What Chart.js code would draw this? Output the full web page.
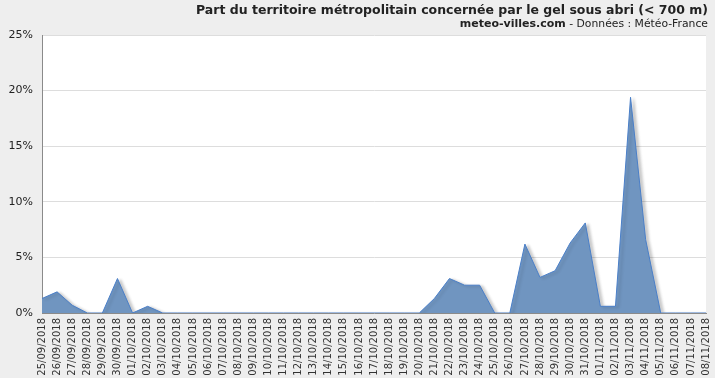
<!DOCTYPE html>
<html>
<head>
<meta charset="utf-8">
<script src="https://cdn.jsdelivr.net/npm/chart.js@4.4.1/dist/chart.umd.min.js"></script>
<style>
  html, body { margin: 0; padding: 0; background: #eeeeee; }
  #wrap { width: 715px; height: 378px; }
</style>
</head>
<body>
<div id="wrap"><canvas id="graph" width="715" height="378"></canvas></div>
<script>
// dates (jours)
const jours = [
  "25/09/2018", "26/09/2018", "27/09/2018", "28/09/2018", "29/09/2018", "30/09/2018",
  "01/10/2018", "02/10/2018", "03/10/2018", "04/10/2018", "05/10/2018", "06/10/2018",
  "07/10/2018", "08/10/2018", "09/10/2018", "10/10/2018", "11/10/2018", "12/10/2018",
  "13/10/2018", "14/10/2018", "15/10/2018", "16/10/2018", "17/10/2018", "18/10/2018",
  "19/10/2018", "20/10/2018", "21/10/2018", "22/10/2018", "23/10/2018", "24/10/2018",
  "25/10/2018", "26/10/2018", "27/10/2018", "28/10/2018", "29/10/2018", "30/10/2018",
  "31/10/2018", "01/11/2018", "02/11/2018", "03/11/2018", "04/11/2018", "05/11/2018",
  "06/11/2018", "07/11/2018", "08/11/2018"
];

// part du territoire en gel (%)
const partGel = [
  1.3, 1.9, 0.7, 0, 0, 3.1,
  0, 0.6, 0, 0, 0, 0,
  0, 0, 0, 0, 0, 0,
  0, 0, 0, 0, 0, 0,
  0, 0, 1.3, 3.1, 2.5, 2.5,
  0, 0, 6.2, 3.2, 3.8, 6.3,
  8.1, 0.6, 0.6, 19.4, 6.6, 0,
  0, 0, 0
];

const ticksY = [0, 5, 10, 15, 20, 25];

// fond gris + zone blanche + titre
const fond = {
  id: "fond",
  beforeDraw(chart) {
    const { ctx, chartArea } = chart;
    ctx.save();
    ctx.fillStyle = "#eeeeee";
    ctx.fillRect(0, 0, chart.width, chart.height);
    ctx.fillStyle = "#ffffff";
    ctx.fillRect(chartArea.left, chartArea.top, chartArea.right - chartArea.left, chartArea.bottom - chartArea.top);
    ctx.restore();
  },
  beforeDatasetsDraw(chart) {
    const ctx = chart.ctx;
    ctx.save();
    ctx.shadowColor = "rgba(0,0,0,0.2)";
    ctx.shadowBlur = 3;
    ctx.shadowOffsetX = 3;
    ctx.shadowOffsetY = 1;
  },
  afterDatasetsDraw(chart) {
    chart.ctx.restore();
  },
  afterDraw(chart) {
    const ctx = chart.ctx;
    const droite = 708;
    ctx.save();
    ctx.textAlign = "right";
    ctx.textBaseline = "alphabetic";
    ctx.fillStyle = "#222222";
    ctx.font = "bold 12.5px 'DejaVu Sans'";
    ctx.fillText("Part du territoire métropolitain concernée par le gel sous abri (< 700 m)", droite, 14);
    ctx.font = "10.8px 'DejaVu Sans'";
    const suite = " - Données : Météo-France";
    ctx.fillText(suite, droite, 27);
    const w = ctx.measureText(suite).width;
    ctx.font = "bold 11px 'DejaVu Sans'";
    ctx.fillText("meteo-villes.com", droite - w, 27);
    ctx.restore();
  }
};

const ctx = document.getElementById("graph").getContext("2d");

new Chart(ctx, {
  type: "line",
  data: {
    labels: jours,
    datasets: [{
      data: partGel,
      fill: "origin",
      backgroundColor: "rgb(112,149,192)",
      borderColor: "#4a7fc8",
      borderWidth: 1,
      pointRadius: 0,
      tension: 0
    }]
  },
  options: {
    responsive: false,
    animation: false,
    layout: { padding: { top: 35, right: 9, left: 0, bottom: 0 } },
    plugins: {
      legend: { display: false },
      tooltip: { enabled: false }
    },
    scales: {
      x: {
        offset: false,
        grid: { display: false, drawTicks: false },
        border: { color: "#8a8a8a", width: 1 },
        ticks: {
          autoSkip: false,
          maxRotation: 90,
          minRotation: 90,
          padding: 5,
          color: "#333333",
          font: { family: "'DejaVu Sans'", size: 10 }
        },
        afterFit(scale) {
          scale.height = 65;
          scale.paddingLeft = 0;
          scale.paddingRight = 0;
        }
      },
      y: {
        min: 0,
        max: 25,
        afterBuildTicks(scale) { scale.ticks = ticksY.map(v => ({ value: v })); },
        grid: { color: "#dddddd", drawTicks: false },
        border: { color: "#8a8a8a", width: 1 },
        ticks: {
          padding: 9,
          color: "#222222",
          font: { family: "'DejaVu Sans'", size: 11 },
          callback: v => v + "%"
        },
        afterFit(scale) { scale.width = 42; }
      }
    }
  },
  plugins: [fond]
});
</script>
</body>
</html>
